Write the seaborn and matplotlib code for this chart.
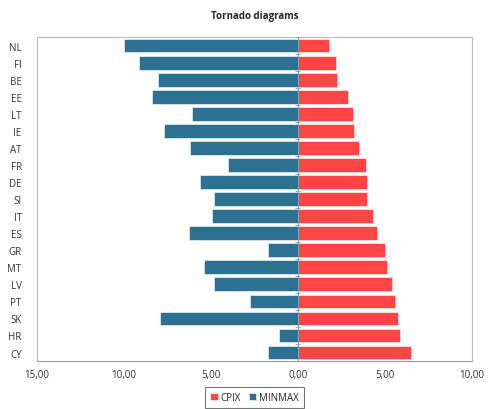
import pandas as pd
import numpy as np
import matplotlib
matplotlib.use('Agg')
import matplotlib.pyplot as plt
import seaborn as sns

countries = ['NL', 'FI', 'BE', 'EE', 'LT', 'IE', 'AT', 'FR', 'DE', 'SI',
             'IT', 'ES', 'GR', 'MT', 'LV', 'PT', 'SK', 'HR', 'CY']
minmax = [-10.0, -9.14, -8.05, -8.4, -6.1, -7.7, -6.2, -4.0, -5.6, -4.83,
          -4.95, -6.26, -1.7, -5.4, -4.83, -2.78, -7.93, -1.08, -1.72]
cpix = [1.8, 2.18, 2.28, 2.87, 3.2, 3.24, 3.5, 3.93, 4.0, 4.0,
        4.33, 4.56, 5.02, 5.1, 5.42, 5.6, 5.75, 5.9, 6.48]
tick_vals = [-15, -10, -5, 0, 5, 10]
tick_labels = ['15,00', '10,00', '5,00', '0,00', '5,00', '10,00']

df = pd.concat([
    pd.DataFrame({'country': countries, 'value': cpix, 'series': 'CPIX'}),
    pd.DataFrame({'country': countries, 'value': minmax, 'series': 'MINMAX'}),
])

sns.set_style('white')
plt.rcParams['font.family'] = ['Open Sans', 'DejaVu Sans']

fig = plt.figure(figsize=(4.89, 4.10), dpi=100)
ax = fig.add_axes([0.0757, 0.117, 0.889, 0.790])

sns.barplot(data=df, x='value', y='country', hue='series', order=countries,
            hue_order=['CPIX', 'MINMAX'], dodge=False, orient='h',
            palette={'CPIX': '#FF4545', 'MINMAX': '#2B7192'}, saturation=1,
            width=0.8, edgecolor='white', linewidth=0.4, ax=ax)

ax.set_xlim(-15, 10)
ax.set_ylim(len(countries) - 0.5, -0.5)
ax.set_xticks(tick_vals)
ax.set_xticklabels(tick_labels, fontsize=7, color='#333333')
ax.tick_params(axis='x', length=4, direction='inout', color='#999999', width=0.8)
ax.tick_params(axis='y', length=0, labelsize=7, labelcolor='#333333', pad=11)
ax.set_xlabel('')
ax.set_ylabel('')

for s in ax.spines.values():
    s.set_color('#BBBBBB')
    s.set_linewidth(0.8)
ax.spines['bottom'].set_color('#999999')

# zero axis with small category ticks
ax.axvline(0, color='#999999', linewidth=0.8, zorder=3)
bounds = np.arange(len(countries) + 1) - 0.5
ax.hlines(bounds, -0.15, 0.15, color='#999999', linewidth=0.6, zorder=3)

ax.set_title('Tornado diagrams', fontsize=7, fontweight='bold', pad=14)

leg = ax.legend(loc='upper center', bbox_to_anchor=(0.5, -0.065), ncol=2,
                fontsize=7, frameon=True, fancybox=False, handlelength=0.8,
                handleheight=0.8, handletextpad=0.3, columnspacing=0.8,
                borderpad=0.5)
leg.get_frame().set_edgecolor('#555555')
leg.get_frame().set_linewidth(0.8)

fig.savefig('out.png', dpi=100)
